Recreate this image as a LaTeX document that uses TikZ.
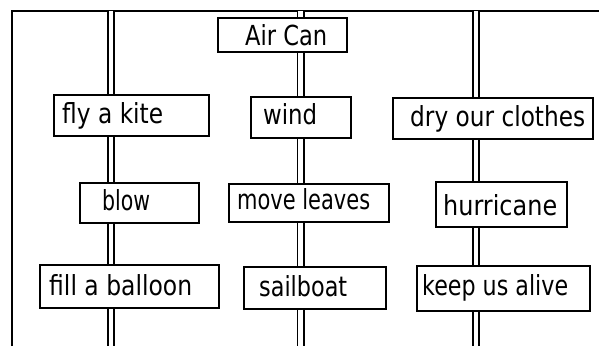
\documentclass[tikz,border=0pt]{standalone}
\usepackage{fontspec}
\usepackage{graphicx}
\setmainfont{DejaVu Sans}
\newsavebox\tbox
\newcommand\fw[2]{\sbox\tbox{#2}\pgfmathsetmacro\myscl{#1/\wd\tbox}\scalebox{\myscl}[1.2]{\usebox\tbox}}
\begin{document}
\begin{tikzpicture}[x=1pt,y=-1pt,
  boxst/.style={draw, line width=1.9pt, fill=white, inner sep=0pt, anchor=north west},
  txt/.style={inner sep=0pt, anchor=base west, font=\fontsize{23}{23}\selectfont},
  dbl/.style={line width=1.8pt, double, double distance=4.4pt},
  frame/.style={line width=1.9pt}]
\useasboundingbox (0,0) rectangle (599,346);
% frame
\coordinate (fl) at (12,346);
\coordinate (ftl) at (12,11);
\coordinate (ftr) at (599,11);
\draw[frame] (fl) -- (ftl) -- (ftr);
% column end points
\coordinate (ltop) at (111,11);  \coordinate (lbot) at (111,346);
\coordinate (mtop) at (300.5,11); \coordinate (mbot) at (300.5,346);
\coordinate (rtop) at (476,11);  \coordinate (rbot) at (476,346);
% boxes
\node[boxst, minimum width=129pt, minimum height=34pt] (aircan) at (217,17) {};
\node[boxst, minimum width=155pt, minimum height=41pt] (kite) at (53,94) {};
\node[boxst, minimum width=100pt, minimum height=41pt] (wind) at (250,96) {};
\node[boxst, minimum width=200pt, minimum height=41pt] (clothes) at (392,97) {};
\node[boxst, minimum width=119pt, minimum height=40pt] (blow) at (79,182) {};
\node[boxst, minimum width=160pt, minimum height=38pt] (leaves) at (228,183) {};
\node[boxst, minimum width=131pt, minimum height=45pt] (hurricane) at (435,181) {};
\node[boxst, minimum width=179pt, minimum height=43pt] (balloon) at (39,264) {};
\node[boxst, minimum width=142pt, minimum height=42pt] (sailboat) at (243,266) {};
\node[boxst, minimum width=173pt, minimum height=45pt] (alive) at (416,265) {};
% texts
\node[txt] (taircan) at (245,45) {\fw{82}{Air Can}};
\node[txt] (tkite) at (62,123) {\fw{101}{fly a kite}};
\node[txt] (twind) at (263,124) {\fw{54}{wind}};
\node[txt] (tclothes) at (410,126) {\fw{175}{dry our clothes}};
\node[txt] (tblow) at (102,210) {\fw{48}{blow}};
\node[txt] (tleaves) at (237,209) {\fw{133}{move leaves}};
\node[txt] (thurricane) at (443,215) {\fw{114}{hurricane}};
\node[txt] (tballoon) at (49,295) {\fw{143}{fill a balloon}};
\node[txt] (tsailboat) at (259,296) {\fw{88}{sailboat}};
\node[txt] (talive) at (422,295) {\fw{146}{keep us alive}};
% connectors (double lines)
\draw[dbl] (ltop) -- (ltop |- kite.north);
\draw[dbl] (ltop |- kite.south) -- (ltop |- blow.north);
\draw[dbl] (ltop |- blow.south) -- (ltop |- balloon.north);
\draw[dbl] (ltop |- balloon.south) -- (lbot);
\draw[dbl] (mtop) -- (mtop |- aircan.north);
\draw[dbl] (mtop |- aircan.south) -- (mtop |- wind.north);
\draw[dbl] (mtop |- wind.south) -- (mtop |- leaves.north);
\draw[dbl] (mtop |- leaves.south) -- (mtop |- sailboat.north);
\draw[dbl] (mtop |- sailboat.south) -- (mbot);
\draw[dbl] (rtop) -- (rtop |- clothes.north);
\draw[dbl] (rtop |- clothes.south) -- (rtop |- hurricane.north);
\draw[dbl] (rtop |- hurricane.south) -- (rtop |- alive.north);
\draw[dbl] (rtop |- alive.south) -- (rbot);
\end{tikzpicture}
\end{document}
